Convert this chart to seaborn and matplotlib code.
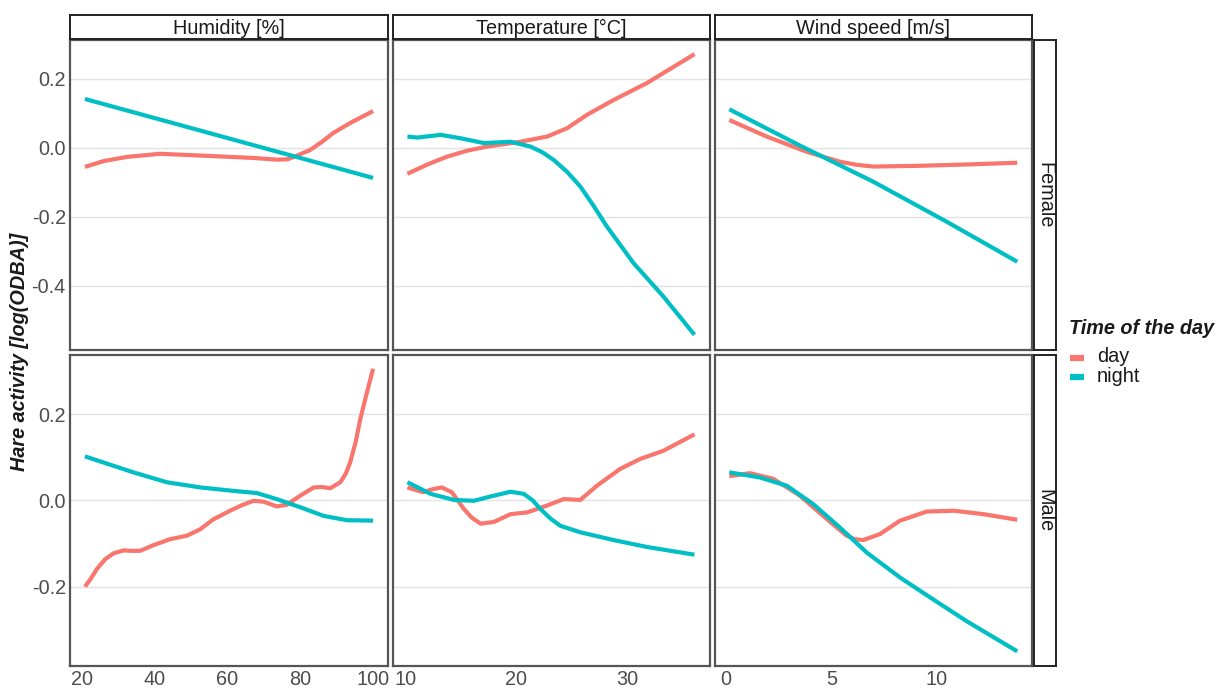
import numpy as np
import pandas as pd
import matplotlib
matplotlib.use("Agg")
import matplotlib.pyplot as plt
import seaborn as sns

# ---------------- data ----------------
variables = ["Humidity [%]", "Temperature [°C]", "Wind speed [m/s]"]
sexes = ["Female", "Male"]
times = ["day", "night"]
palette = {"day": "#F8766D", "night": "#00BFC4"}

# Female
f_hum_day_x = [20.8, 26.0, 32.4, 41.5, 54.4, 67.0, 73.6, 76.5, 78.0, 82.7, 86.0, 89.0, 94.0, 100.0]
f_hum_day_y = [-0.055, -0.038, -0.026, -0.017, -0.023, -0.029, -0.034, -0.033, -0.027, -0.006,
               0.018, 0.043, 0.074, 0.107]
f_hum_night_x = [20.8, 100.0]
f_hum_night_y = [0.142, -0.087]

f_tmp_day_x = [10.2, 12.0, 13.8, 15.6, 17.4, 20.4, 22.8, 24.6, 26.4, 28.8, 31.8, 36.1]
f_tmp_day_y = [-0.075, -0.048, -0.025, -0.008, 0.004, 0.018, 0.033, 0.057, 0.096, 0.139, 0.188, 0.272]
f_tmp_night_x = [10.2, 11.1, 13.2, 15.0, 17.1, 19.5, 21.3, 22.4, 23.4, 24.6, 25.8, 27.0,
                 28.2, 30.6, 33.3, 36.1]
f_tmp_night_y = [0.033, 0.030, 0.038, 0.028, 0.014, 0.018, 0.004, -0.013, -0.035, -0.069,
                 -0.112, -0.168, -0.228, -0.334, -0.431, -0.542]

f_wnd_day_x = [0.16, 1.93, 3.82, 5.4, 6.2, 6.98, 9.04, 11.4, 13.8]
f_wnd_day_y = [0.081, 0.033, -0.011, -0.040, -0.049, -0.054, -0.052, -0.048, -0.043]
f_wnd_night_x = [0.16, 3.5, 6.98, 10.4, 13.8]
f_wnd_night_y = [0.112, 0.007, -0.098, -0.212, -0.330]

# Male
m_hum_day_x = [20.8, 22.4, 24.0, 26.3, 28.6, 31.4, 33.7, 36.0, 39.6, 44.2, 48.8, 52.5, 56.1,
               60.7, 64.0, 67.1, 69.9, 73.5, 76.3, 80.0, 83.7, 86.0, 88.2, 91.0, 92.5,
               93.7, 95.2, 96.5, 98.3, 100.0]
m_hum_day_y = [-0.200, -0.182, -0.160, -0.137, -0.123, -0.116, -0.117, -0.117, -0.104, -0.090,
               -0.082, -0.067, -0.044, -0.024, -0.011, -0.001, -0.003, -0.014, -0.010, 0.011,
               0.030, 0.031, 0.028, 0.042, 0.062, 0.088, 0.135, 0.189, 0.250, 0.305]
m_hum_night_x = [20.8, 34.1, 43.3, 52.5, 61.6, 68.0, 73.5, 80.0, 86.4, 92.8, 100.0]
m_hum_night_y = [0.102, 0.065, 0.042, 0.030, 0.022, 0.017, 0.003, -0.016, -0.036, -0.046, -0.047]

m_tmp_day_x = [10.2, 11.6, 12.5, 13.3, 14.2, 15.3, 16.0, 16.8, 18.0, 19.5, 21.0, 22.8, 24.3,
               25.8, 27.3, 29.4, 31.2, 33.3, 36.1]
m_tmp_day_y = [0.030, 0.019, 0.026, 0.030, 0.019, -0.020, -0.040, -0.054, -0.050, -0.032,
               -0.028, -0.012, 0.003, 0.001, 0.034, 0.073, 0.096, 0.115, 0.153]
m_tmp_night_x = [10.2, 12.3, 14.4, 16.2, 17.7, 19.5, 20.7, 21.5, 22.2, 23.1, 24.0, 25.8,
                 28.8, 31.8, 36.1]
m_tmp_night_y = [0.042, 0.015, 0.001, -0.001, 0.009, 0.020, 0.015, 0.000, -0.020, -0.042,
                 -0.059, -0.074, -0.092, -0.108, -0.126]

m_wnd_day_x = [0.16, 1.14, 2.24, 3.5, 4.77, 5.72, 6.1, 6.51, 7.30, 8.25, 9.51, 10.8, 12.2, 13.8]
m_wnd_day_y = [0.056, 0.063, 0.050, 0.011, -0.043, -0.082, -0.090, -0.092, -0.078, -0.047,
               -0.026, -0.024, -0.032, -0.045]
m_wnd_night_x = [0.16, 1.61, 2.88, 4.14, 5.40, 6.67, 8.25, 9.83, 11.4, 13.8]
m_wnd_night_y = [0.065, 0.053, 0.034, -0.009, -0.063, -0.121, -0.179, -0.230, -0.280, -0.350]

x_ticks = {0: [20, 40, 60, 80, 100], 1: [10, 20, 30], 2: [0, 5, 10]}
x_lims = {0: (16.7, 104.1), 1: (8.9, 37.5), 2: (-0.52, 14.5)}
y_ticks = {0: [-0.4, -0.2, 0.0, 0.2], 1: [-0.2, 0.0, 0.2]}
y_lims = {0: (-0.586, 0.313), 1: (-0.384, 0.337)}

series = {
    ("Female", 0, "day"): (f_hum_day_x, f_hum_day_y),
    ("Female", 0, "night"): (f_hum_night_x, f_hum_night_y),
    ("Female", 1, "day"): (f_tmp_day_x, f_tmp_day_y),
    ("Female", 1, "night"): (f_tmp_night_x, f_tmp_night_y),
    ("Female", 2, "day"): (f_wnd_day_x, f_wnd_day_y),
    ("Female", 2, "night"): (f_wnd_night_x, f_wnd_night_y),
    ("Male", 0, "day"): (m_hum_day_x, m_hum_day_y),
    ("Male", 0, "night"): (m_hum_night_x, m_hum_night_y),
    ("Male", 1, "day"): (m_tmp_day_x, m_tmp_day_y),
    ("Male", 1, "night"): (m_tmp_night_x, m_tmp_night_y),
    ("Male", 2, "day"): (m_wnd_day_x, m_wnd_day_y),
    ("Male", 2, "night"): (m_wnd_night_x, m_wnd_night_y),
}

rows = []
for (sex, col, tod), (xs, ys) in series.items():
    for i, (x, y) in enumerate(zip(xs, ys)):
        rows.append({"sex": sex, "col": col, "time": tod, "x": x, "y": y, "order": i})
df = pd.DataFrame(rows)

# ---------------- figure ----------------
sns.set_theme(style="white")
plt.rcParams["font.family"] = ["Liberation Sans", "DejaVu Sans"]

W, H = 1223, 691
fig = plt.figure(figsize=(W / 100, H / 100), dpi=100)

col_px = [(70, 388), (393, 710), (715, 1032)]
row_px = [(40, 350), (355, 666)]

def fig_rect(x0, x1, y0, y1):
    return [x0 / W, 1 - y1 / H, (x1 - x0) / W, (y1 - y0) / H]

grid_c = "#E3E3E3"
tick_c = "#4D4D4D"
fs = 14.3

for r, sex in enumerate(sexes):
    for c in range(3):
        ax = fig.add_axes(fig_rect(col_px[c][0], col_px[c][1], row_px[r][0], row_px[r][1]))
        sub = df[(df.sex == sex) & (df.col == c)]
        sns.lineplot(data=sub, x="x", y="y", hue="time", hue_order=times, palette=palette,
                     sort=False, estimator=None, units="time", linewidth=3.0, legend=False,
                     ax=ax, solid_capstyle="butt", solid_joinstyle="round")
        ax.set_xlim(*x_lims[c])
        ax.set_ylim(*y_lims[r])
        ax.set_yticks(y_ticks[r])
        ax.set_xticks(x_ticks[c])
        ax.grid(axis="y", color=grid_c, linewidth=1.0)
        ax.grid(axis="x", visible=False)
        ax.set_axisbelow(True)
        ax.set_xlabel("")
        ax.set_ylabel("")
        ax.tick_params(length=0, labelsize=fs, labelcolor=tick_c, pad=3)
        if c == 0:
            ax.set_yticklabels([f"{v:.1f}" for v in y_ticks[r]])
        else:
            ax.set_yticklabels([])
        if r == 1:
            ax.set_xticklabels([str(v) for v in x_ticks[c]])
        else:
            ax.set_xticklabels([])
        for s in ax.spines.values():
            s.set_visible(True)
            s.set_color("#555555")
            s.set_linewidth(1.6)

# top strips
for c, lab in enumerate(variables):
    sax = fig.add_axes(fig_rect(col_px[c][0], col_px[c][1], 15, 39))
    sax.set_xticks([]); sax.set_yticks([])
    sax.set_facecolor("white")
    for s in sax.spines.values():
        s.set_visible(True); s.set_color("#222222"); s.set_linewidth(1.4)
    sax.text(0.5, 0.45, lab, ha="center", va="center", fontsize=fs, color="#1A1A1A",
             transform=sax.transAxes)

# right strips
for r, sex in enumerate(sexes):
    sax = fig.add_axes(fig_rect(1034, 1056, row_px[r][0], row_px[r][1]))
    sax.set_xticks([]); sax.set_yticks([])
    sax.set_facecolor("white")
    for s in sax.spines.values():
        s.set_visible(True); s.set_color("#222222"); s.set_linewidth(1.4)
    sax.text(0.5, 0.5, sex, ha="center", va="center", rotation=-90, fontsize=fs,
             color="#1A1A1A", transform=sax.transAxes)

# y axis label
fig.text(20 / W, 1 - 352 / H, "Hare activity [log(ODBA)]", rotation=90, ha="center",
         va="center", fontsize=fs, fontweight="bold", fontstyle="italic", color="#1A1A1A")

# legend
fig.text(1069 / W, 1 - 329 / H, "Time of the day", ha="left", va="center", fontsize=fs,
         fontweight="bold", fontstyle="italic", color="#1A1A1A")
for i, tod in enumerate(times):
    yy = 358 + i * 19
    fig.add_artist(plt.Line2D([1070 / W, 1084 / W], [1 - yy / H, 1 - yy / H],
                              color=palette[tod], linewidth=4.5, solid_capstyle="butt"))
    fig.text(1097 / W, 1 - (yy - 1) / H, tod, ha="left", va="center", fontsize=fs,
             color="#1A1A1A")

fig.savefig("out.png", dpi=100, facecolor="white")
